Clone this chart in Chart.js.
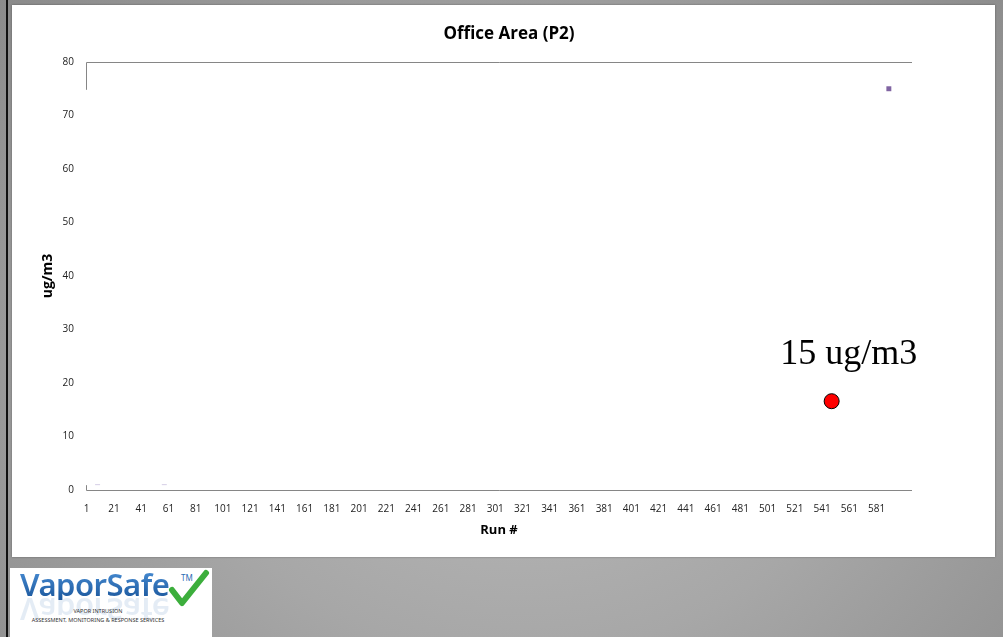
<!DOCTYPE html>
<html><head><meta charset="utf-8">
<script src="https://cdn.jsdelivr.net/npm/chart.js@4.4.1/dist/chart.umd.min.js"></script>
<style>
html,body{margin:0;padding:0;width:1003px;height:637px;overflow:hidden;}
body{position:relative;background:radial-gradient(ellipse 75% 95% at 52% 60%, #bababa 0%, #a7a7a7 45%, #878787 100%);}
#vline{position:absolute;left:6px;top:0;width:2px;height:637px;background:#111;}
#panel{position:absolute;left:12px;top:5px;width:983px;height:552px;background:#fff;box-shadow:0 0 2px rgba(0,0,0,.35);}
#logo{position:absolute;left:10px;top:568px;width:202px;height:69px;background:#fff;overflow:hidden;font-family:'Noto Sans',sans-serif;}
#logo .brand{position:absolute;left:10px;top:0;font-size:31px;line-height:32px;font-weight:600;letter-spacing:-0.5px;color:#2b6cb3;
  background:linear-gradient(#4a8fd6,#1b579c);-webkit-background-clip:text;background-clip:text;-webkit-text-fill-color:transparent;}
#logo .refl{position:absolute;left:10px;top:26px;font-size:31px;line-height:32px;font-weight:600;letter-spacing:-0.5px;color:#2b6cb3;opacity:.12;transform:scaleY(-1);transform-origin:50% 50%;}
#logo .tm{position:absolute;left:171px;top:4px;font-size:8px;color:#2b6cb3;}
#logo .l1{position:absolute;left:0;width:176px;top:39px;text-align:center;font-size:5.5px;color:#333;}
#logo .l2{position:absolute;left:0;width:176px;top:48px;text-align:center;font-size:5.5px;color:#333;}
#logo svg{position:absolute;left:0;top:0;}
</style>
</head><body>
<div id="vline"></div>
<div id="panel"><canvas id="c" width="983" height="552"></canvas></div>
<div id="logo">
  <div class="refl">VaporSafe</div>
  <div class="brand">VaporSafe</div>
  <div class="tm">TM</div>
  <svg width="202" height="69"><path d="M162 22 L172 35 L196 5" fill="none" stroke="#3cae3c" stroke-width="6" stroke-linecap="round" stroke-linejoin="round"/></svg>
  <div class="l1">VAPOR INTRUSION</div>
  <div class="l2">ASSESSMENT, MONITORING &amp; RESPONSE SERVICES</div>
</div>
<script>
// ---- data ----
const chartTitle = 'Office Area (P2)';
const xAxisTitle = 'Run #';
const yAxisTitle = 'ug/m3';
const xTickLabels = [1,21,41,61,81,101,121,141,161,181,201,221,241,261,281,301,321,341,361,381,401,421,441,461,481,501,521,541,561,581];
const yTickLabels = [0,10,20,30,40,50,60,70,80];
const faintRuns = [9, 58];
const faintValues = [1, 1];
const purpleRuns = [590];
const purpleValues = [75];
const markerRuns = [548];
const markerValues = [16.6];
const annotationText = '15 ug/m3';

function pts(xs, ys){ return xs.map((x,i)=>({x:x, y:ys[i]})); }

const framePlugin = {
  id:'frame',
  beforeDatasetsDraw(chart){
    const {ctx, chartArea:a, scales:{y}} = chart;
    ctx.save();
    ctx.strokeStyle = '#868686';
    ctx.lineWidth = 1;
    const t = Math.round(y.getPixelForValue(80)) + 0.5;
    const b = Math.round(y.getPixelForValue(0)) + 0.5;
    const l = Math.round(a.left) + 0.5;
    ctx.beginPath();
    ctx.moveTo(l, y.getPixelForValue(74.8)); ctx.lineTo(l, t); ctx.lineTo(a.right, t);
    ctx.moveTo(l, y.getPixelForValue(0.9)); ctx.lineTo(l, b); ctx.lineTo(a.right, b);
    ctx.stroke();
    ctx.restore();
  },
  afterDraw(chart){
    const {ctx} = chart;
    ctx.save();
    ctx.fillStyle = '#000';
    ctx.font = 'bold 17px "Open Sans"';
    ctx.textAlign = 'center';
    ctx.textBaseline = 'middle';
    ctx.fillText(chartTitle, 497, 29);
    const m = chart.getDatasetMeta(2).data[0];
    ctx.font = '36px "Liberation Serif"';
    ctx.textBaseline = 'alphabetic';
    ctx.fillText(annotationText, m.x + 17, m.y - 37);
    ctx.restore();
  }
};

new Chart(document.getElementById('c'), {
  type:'scatter',
  data:{datasets:[
    {data:pts(faintRuns, faintValues), pointStyle:'line', pointRadius:2.5, borderColor:'#d6cfe6', backgroundColor:'#d6cfe6', borderWidth:1},
    {data:pts(purpleRuns, purpleValues), pointStyle:'rect', pointRadius:3.5, borderColor:'#8064a2', backgroundColor:'#8064a2', borderWidth:0},
    {data:pts(markerRuns, markerValues), pointStyle:'circle', pointRadius:7.5, backgroundColor:'#ff0000', borderColor:'#000', borderWidth:1}
  ]},
  options:{
    responsive:false, animation:false, events:[],
    layout:{padding:{left:20, top:57, right:83, bottom:10}},
    plugins:{legend:{display:false}, title:{display:false}, tooltip:{enabled:false}},
    scales:{
      x:{type:'linear', position:'bottom', min:0.5, max:607,
        grid:{display:false, drawTicks:false}, border:{display:false},
        afterBuildTicks:s=>{ s.ticks = xTickLabels.map(v=>({value:v})); },
        afterFit:s=>{ s.height = 57; },
        ticks:{autoSkip:false, maxRotation:0, minRotation:0, padding:13, color:'#222', font:{family:'Open Sans', size:10}, callback:v=>String(v)},
        title:{display:true, text:xAxisTitle, color:'#000', font:{family:'Open Sans', size:13, weight:'bold'}, padding:{top:4, bottom:9}}
      },
      y:{min:0, max:80,
        grid:{display:false, drawTicks:false}, border:{display:false},
        afterBuildTicks:s=>{ s.ticks = yTickLabels.map(v=>({value:v})); },
        afterFit:s=>{ s.width = 54; },
        ticks:{padding:12, color:'#222', font:{family:'Open Sans', size:10}},
        title:{display:true, text:yAxisTitle, color:'#000', font:{family:'Open Sans', size:14, weight:'bold'}, padding:{top:8, bottom:0}}
      }
    }
  },
  plugins:[framePlugin]
});
</script>
</body></html>
